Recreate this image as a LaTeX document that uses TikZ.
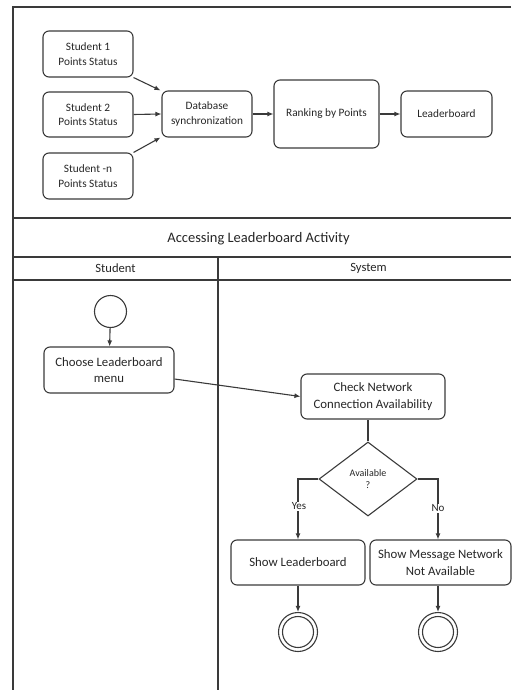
\documentclass[tikz,border=0pt]{standalone}
\usepackage{fontspec}
\setmainfont{Carlito}
\usetikzlibrary{shapes.geometric,arrows.meta}
\definecolor{linec}{HTML}{3A3A3A}
\definecolor{textc}{HTML}{262626}
\begin{document}
\begin{tikzpicture}[x=1pt,y=-1pt,
  frame/.style={draw=linec, line width=1.1pt},
  box/.style={draw=linec, line width=1.1pt, rounded corners=6pt, align=center,
    text=textc, inner sep=2pt},
  smallbox/.style={box, font=\fontsize{11.3}{14.5}\selectfont},
  actbox/.style={box, font=\fontsize{12.8}{16.5}\selectfont},
  flow/.style={draw=linec, line width=1.1pt, -{Latex[length=6pt,width=5pt]}},
  startdot/.style={circle, draw=linec, line width=1.1pt, minimum size=32pt, inner sep=0pt},
  enddot/.style={circle, draw=linec, line width=1.1pt, minimum size=39pt, inner sep=0pt},
  endcore/.style={circle, draw=linec, line width=1.1pt, minimum size=31pt, inner sep=0pt},
  lbl/.style={text=textc, inner sep=1pt}
]
\useasboundingbox (0,0) rectangle (511,690);

% ---------- data flow section ----------
\draw[frame] (511,7) -- (13,7) -- (13,690);
\node[smallbox, minimum width=90pt, minimum height=46pt] (s1) at (88,54) {Student 1\\Points Status};
\node[smallbox, minimum width=90pt, minimum height=45pt] (s2) at (88,114.5) {Student 2\\Points Status};
\node[smallbox, minimum width=90pt, minimum height=46pt] (sn) at (88,176) {Student -n\\Points Status};
\node[smallbox, minimum width=90pt, minimum height=46pt] (db) at (207,114) {Database\\synchronization};
\node[smallbox, minimum width=105pt, minimum height=68pt] (rank) at (326.5,114) {Ranking by Points};
\node[smallbox, minimum width=91pt, minimum height=46pt] (lb) at (446.5,114) {Leaderboard};

\draw[flow] (s1.south east) -- ([xshift=-1pt]db.north west);
\draw[flow] (s2.east) -- (db.west);
\draw[flow] (sn.north east) -- ([xshift=-1pt]db.south west);
\draw[flow] (db.east) -- (rank.west);
\draw[flow] (rank.east) -- (lb.west);

% ---------- swimlane frame ----------
\draw[frame] (13,218) -- (511,218);
\draw[frame] (13,257) -- (511,257);
\draw[frame] (13,280) -- (511,280);
\draw[frame] (218,257) -- (218,690);
\node[lbl, font=\fontsize{14.5}{16}\selectfont] (title) at (258.5,238.5) {Accessing Leaderboard Activity};
\node[lbl, font=\fontsize{12.6}{14}\selectfont] (laneA) at (115.5,268.5) {Student};
\node[lbl, font=\fontsize{12.6}{14}\selectfont] (laneB) at (368.5,268.5) {System};

% ---------- activity flow ----------
\node[startdot] (start) at (110.5,311.5) {};
\node[actbox, minimum width=130pt, minimum height=46pt] (choose) at (109,370) {Choose Leaderboard\\menu};
\node[actbox, minimum width=144pt, minimum height=45pt] (check) at (373,396.5) {Check Network\\Connection Availability};
\node[diamond, draw=linec, line width=1.1pt, minimum width=98pt, minimum height=74pt,
  inner sep=0pt, align=center, text=textc, font=\fontsize{10}{11.5}\selectfont] (avail) at (368,479) {Available\\?};
\node[actbox, minimum width=134pt, minimum height=45pt] (show) at (298,562.5) {Show Leaderboard};
\node[actbox, minimum width=141pt, minimum height=45pt] (msg) at (440.5,562.5) {Show Message Network\\Not Available};
\node[enddot] (endA) at (298,632) {};
\node[endcore] (endAin) at (298,632) {};
\node[enddot] (endB) at (438,632) {};
\node[endcore] (endBin) at (438,632) {};

\coordinate (yesturn) at (298,479);
\coordinate (noturn) at (438,479);

\draw[flow] (start) -- (choose);
\draw[flow] ([yshift=-9pt]choose.east) -- (check.west);
\draw[frame] (avail.north) -- (avail.north |- check.south);
\draw[flow] (avail.west) -- (yesturn) -- (show.north -| yesturn);
\draw[flow] (avail.east) -- (noturn) -- (msg.north -| noturn);
\node[lbl, fill=white, font=\fontsize{11}{12}\selectfont] (yes) at (299,506.5) {Yes};
\node[lbl, fill=white, font=\fontsize{11}{12}\selectfont] (no) at (438,508.5) {No};
\draw[flow] (show.south) -- (endA.north);
\draw[flow] (msg.south -| endB) -- (endB.north);
\end{tikzpicture}
\end{document}
